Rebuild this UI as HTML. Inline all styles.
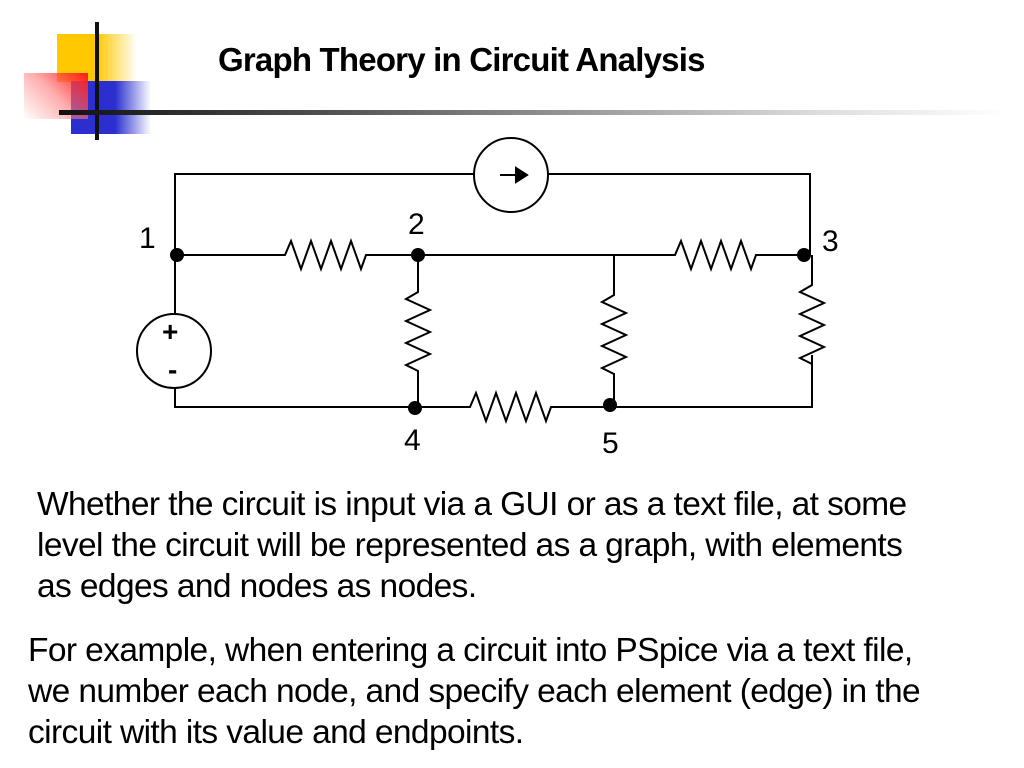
<!DOCTYPE html>
<html><head><meta charset="utf-8"><style>
body{margin:0;width:1024px;height:768px;background:#fff;position:relative;overflow:hidden;font-family:"Liberation Sans",Arial,sans-serif}
.t{position:absolute;white-space:nowrap;color:#000}
.p{font-size:33.5px;line-height:41px;letter-spacing:-0.6px}
</style></head><body>
<div style="position:absolute;left:57px;top:34px;width:80px;height:48px;background:linear-gradient(90deg,#ffc800 50%,rgba(255,220,120,0))"></div>
<div style="position:absolute;left:71px;top:81px;width:80px;height:53px;background:linear-gradient(90deg,#2b2fd0 55%,rgba(43,47,208,0))"></div>
<div style="position:absolute;left:24px;top:73px;width:64px;height:46px;background:linear-gradient(225deg,#ff1a1a,rgba(255,120,120,0.6) 50%,rgba(255,255,255,0.2))"></div>
<div style="position:absolute;left:95px;top:22px;width:4px;height:118px;background:#111"></div>
<div style="position:absolute;left:59px;top:110px;width:950px;height:5px;background:linear-gradient(90deg,#111,#555 30%,#ddd 80%,#fff)"></div>
<div class="t" style="left:218px;top:41px;font-size:33px;font-weight:bold;letter-spacing:-0.8px">Graph Theory in Circuit Analysis</div>
<svg width="1024" height="768" style="position:absolute;left:0;top:0" fill="none" stroke="#000" stroke-width="2">
<path d="M175 315V174H474M548 174H810V255M175 255H285l6-14 10 28 10-28 10 28 10-28 10 28 10-28 10 28 5-14H418H675l6-14 10 28 10-28 10 28 10-28 10 28 10-28 10 28 5-14H804"/>
<path d="M175 387V407H415H470l6-14 10 28 10-28 10 28 10-28 10 28 10-28 10 28 5-14H610H812V355"/>
<path d="M418 255V292l-12 7 24 11-24 11 24 11-24 11 24 11-24 11 12 6V407"/>
<path d="M614 255V295l-12 7 24 11-24 11 24 11-24 11 24 11-24 11 12 6V405"/>
<path d="M812 255V285l-12 7 24 11-24 11 24 11-24 11 24 11-24 11 12 6"/>
<ellipse cx="511" cy="175" rx="37" ry="37"/>
<ellipse cx="174" cy="351" rx="37" ry="37"/>
<path d="M500 175H520"/>
<path d="M516 168L527 175L516 182Z" fill="#000"/>
<g fill="#000" stroke="none">
<circle cx="177" cy="255" r="7"/><circle cx="418" cy="255" r="7"/><circle cx="804" cy="255" r="7"/>
<circle cx="415" cy="408" r="7"/><circle cx="610" cy="405" r="7"/>
</g>
</svg>
<div class="t" style="left:139px;top:222px;font-size:30px">1</div>
<div class="t" style="left:408px;top:208px;font-size:30px">2</div>
<div class="t" style="left:822px;top:225px;font-size:30px">3</div>
<div class="t" style="left:404px;top:424px;font-size:30px">4</div>
<div class="t" style="left:602px;top:427px;font-size:30px">5</div>
<div class="t" style="left:162px;top:316px;font-size:28px;font-weight:bold">+</div>
<div class="t" style="left:168px;top:354px;font-size:28px;font-weight:bold">-</div>
<div class="t p" style="left:37px;top:484px">Whether the circuit is input via a GUI or as a text file, at some<br>level the circuit will be represented as a graph, with elements<br>as edges and nodes as nodes.</div>
<div class="t p" style="left:28px;top:630px">For example, when entering a circuit into PSpice via a text file,<br>we number each node, and specify each element (edge) in the<br>circuit with its value and endpoints.</div>
</body></html>
